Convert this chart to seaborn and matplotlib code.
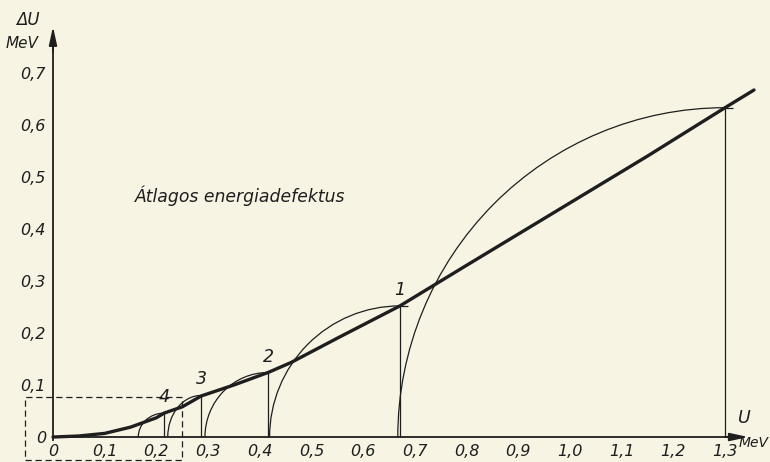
import matplotlib
matplotlib.use("Agg")
import numpy as np
import matplotlib.pyplot as plt
from matplotlib.patches import Arc, Rectangle
import seaborn as sns

# average energy defect (thick curve), MeV
avg_u = [0, 0.05, 0.10, 0.15, 0.20, 0.215, 0.25, 0.287, 0.35, 0.416, 0.46, 0.55, 0.671, 0.80, 1.00, 1.15, 1.30, 1.356]
avg_du = [0, 0.002, 0.007, 0.019, 0.037, 0.046, 0.058, 0.079, 0.100, 0.124, 0.143, 0.190, 0.252, 0.330, 0.450, 0.540, 0.633, 0.667]

# levels: position of the vertical line, its height, where the arc starts
level_u = [1.30, 0.671, 0.416, 0.287, 0.215]
level_top = [0.633, 0.252, 0.124, 0.080, 0.046]
arc_start = [0.667, 0.419, 0.294, 0.222, 0.165]
level_labels = ['', '1', '2', '3', '4']

# axis ticks
x_ticks = [0, 0.1, 0.2, 0.3, 0.4, 0.5, 0.6, 0.7, 0.8, 0.9, 1.0, 1.1, 1.2, 1.3]
x_labels = ['0', '0,1', '0,2', '0,3', '0,4', '0,5', '0,6', '0,7', '0,8', '0,9', '1,0', '1,1', '1,2', '1,3']
y_ticks = [0, 0.1, 0.2, 0.3, 0.4, 0.5, 0.6, 0.7]
y_labels = ['0', '0,1', '0,2', '0,3', '0,4', '0,5', '0,6', '0,7']

# dashed box round the low-energy part
box_u = [-0.054, 0.250]
box_du = [-0.044, 0.077]

bg = '#f7f4e3'
ink = '#1e1e1e'

sns.set_style("white")
plt.rcParams['font.family'] = ['DejaVu Sans']

fig = plt.figure(figsize=(7.7, 4.62), dpi=100, facecolor=bg)
ax = fig.add_axes([0, 0, 1, 1])
ax.set_facecolor(bg)
ax.set_xlim(-0.1025, 1.387)
ax.set_ylim(-0.048, 0.840)

# thick average curve
sns.lineplot(x=avg_u, y=avg_du, sort=False, color=ink, lw=2.4, ax=ax)

# vertical level lines and the quarter arcs
ax.vlines(level_u, 0, level_top, color=ink, lw=0.9)
for u, top, start in zip(level_u, level_top, arc_start):
    ax.add_patch(Arc((u, 0), 2 * (u - start), 2 * top, theta1=90, theta2=180,
                     color=ink, lw=0.9))
ax.hlines(level_top[:2], level_u[:2], np.array(level_u[:2]) + 0.015, color=ink, lw=0.9)

for u, top, lab in zip(level_u, level_top, level_labels):
    if lab:
        ax.annotate(lab, (u, top), xytext=(0, 5), textcoords='offset points',
                    ha='center', va='bottom', style='italic', fontsize=12.5, color=ink)

ax.add_patch(Rectangle((box_u[0], box_du[0]), box_u[1] - box_u[0], box_du[1] - box_du[0],
                       fill=False, ec=ink, lw=0.9, ls=(0, (5, 3))))

ax.text(0.159, 0.452, 'Átlagos energiadefektus', style='italic', fontsize=12.4,
        ha='left', va='baseline', color=ink)

# axes through the origin, with arrows
for s in ['top', 'right']:
    ax.spines[s].set_visible(False)
ax.spines['bottom'].set_position(('data', 0))
ax.spines['left'].set_position(('data', 0))
ax.spines['bottom'].set_bounds(0, 1.32)
ax.spines['left'].set_bounds(-0.005, 0.76)
ax.spines['bottom'].set_linewidth(1.3)
ax.spines['left'].set_linewidth(1.3)
ax.spines['bottom'].set_color(ink)
ax.spines['left'].set_color(ink)

arrow = dict(arrowstyle='-|>,head_length=0.55,head_width=0.12', color=ink, lw=1.3,
             shrinkA=0, shrinkB=0, mutation_scale=20)
ax.annotate('', xy=(1.345, 0), xytext=(1.30, 0), arrowprops=arrow)
ax.annotate('', xy=(0, 0.789), xytext=(0, 0.74), arrowprops=arrow)

ax.set_xticks(x_ticks, labels=x_labels)
ax.set_yticks(y_ticks, labels=y_labels)
ax.tick_params(axis='x', direction='inout', length=6, width=1, pad=2, labelsize=11.5, colors=ink)
ax.tick_params(axis='y', direction='out', length=4, width=1, pad=1, labelsize=11.5, colors=ink)
for lab in ax.get_xticklabels() + ax.get_yticklabels():
    lab.set_style('italic')

ax.text(-0.048, 0.802, 'ΔU', style='italic', fontsize=12, ha='center', va='center', color=ink)
ax.text(-0.060, 0.757, 'MeV', style='italic', fontsize=11, ha='center', va='center', color=ink)
ax.text(1.337, 0.036, 'U', style='italic', fontsize=12.5, ha='center', va='center', color=ink)
ax.text(1.326, -0.012, 'MeV', style='italic', fontsize=10, ha='left', va='center', color=ink)

fig.savefig('out.png', dpi=100, facecolor=bg)
